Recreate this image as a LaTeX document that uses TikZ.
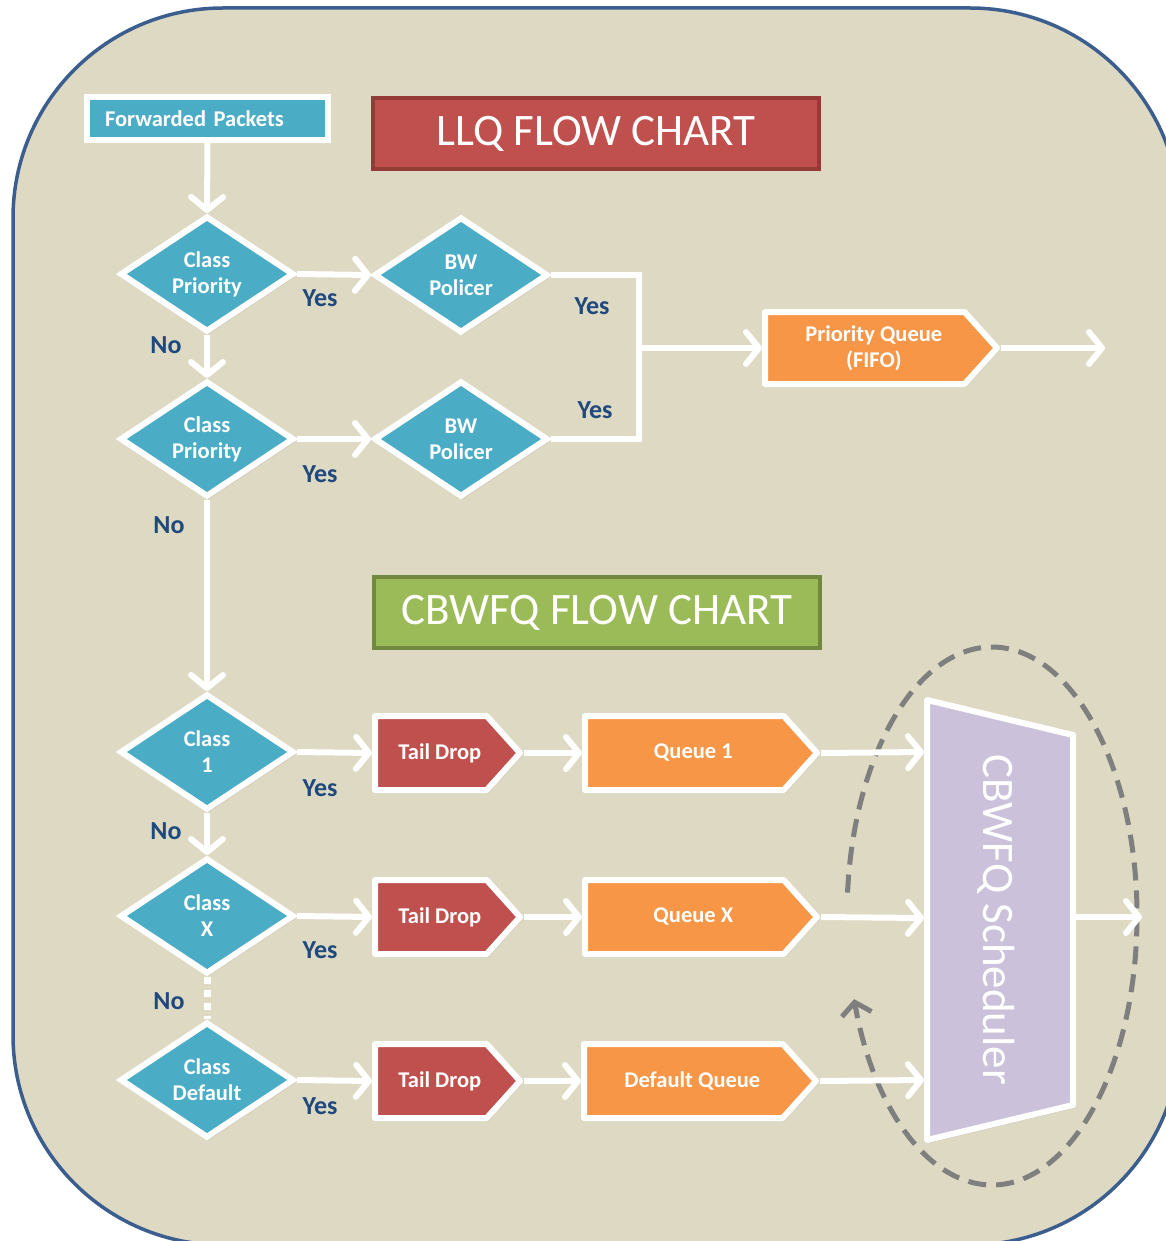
\documentclass[tikz,border=0pt]{standalone}
\usepackage{fontspec}
\setmainfont{Carlito}
\usetikzlibrary{shapes.geometric,shapes.symbols,arrows.meta,shadows}
\definecolor{bgtan}{HTML}{DDD9C3}
\definecolor{frameblue}{HTML}{3B5E8E}
\definecolor{tealc}{HTML}{4BACC6}
\definecolor{redc}{HTML}{C0504D}
\definecolor{redd}{HTML}{943A37}
\definecolor{orangec}{HTML}{F79646}
\definecolor{greenc}{HTML}{9BBB59}
\definecolor{greend}{HTML}{71893F}
\definecolor{purplec}{HTML}{CCC1DA}
\definecolor{labelc}{HTML}{1F497D}
\definecolor{dashc}{HTML}{7F7F7F}
\newcommand\shtxt[1]{\hspace*{9pt}#1\hspace*{-9pt}}
\tikzset{
  shad/.style={drop shadow={opacity=0.22, shadow xshift=2pt, shadow yshift=-3pt}},
  boxfont/.style={font=\fontsize{22.5}{26}\selectfont\bfseries, text=white},
  dec/.style={diamond, shape aspect=1.5, draw=white, line width=6pt, fill=tealc,
    minimum width=174pt, minimum height=116pt, inner sep=0pt, align=center, boxfont, shad},
  sig/.style={signal, signal to=east, signal pointer angle=96, draw=white, line width=6pt,
    line join=round, inner sep=0pt, minimum height=74pt, boxfont, align=center, shad, anchor=west},
  titlebox/.style={draw=#1, line width=4pt, minimum width=446pt, minimum height=71pt,
    text=white, font=\fontsize{45}{50}\selectfont},
  lab/.style={text=labelc, font=\fontsize{26}{30}\selectfont\bfseries},
  wline/.style={draw=white, line width=6pt},
  flow/.style={wline, -{Straight Barb[length=13pt, width=32pt, round]}},
}
\begin{document}
\begin{tikzpicture}[x=1pt, y=-1pt]
\fill[white] (0,0) rectangle (1165,1241);
\useasboundingbox (0,0) rectangle (1165,1241);
% background panel
\draw[fill=bgtan, draw=frameblue, line width=3.5pt, rounded corners=210pt] (13,8) rectangle (1180,1245);

% titles
\node[titlebox=redd, fill=redc] (llq) at (596,133.5) {LLQ FLOW CHART};
\node[titlebox=greend, fill=greenc] (cbt) at (597,612.5) {CBWFQ FLOW CHART};

% source
\node[draw=white, line width=6pt, fill=tealc, boxfont, minimum height=43pt,
      inner xsep=18pt, text width=205pt, align=left, shad] (fwd) at (207.5,118.5) {Forwarded Packets};

% LLQ decisions
\node[dec] (cp1) at (207,274) {Class\\Priority};
\node[dec] (bw1) at (461,275) {BW\\Policer};
\node[dec] (cp2) at (207,439) {Class\\Priority};
\node[dec] (bw2) at (461,439) {BW\\Policer};
\node[sig, fill=orangec, minimum width=232pt, minimum height=72pt] (pq) at (762,348) {\shtxt{Priority Queue}\\\shtxt{(FIFO)}};
\coordinate (jn) at (639,348);
\coordinate (pqout) at (1105,348);

% CBWFQ decisions
\node[dec] (c1) at (207,752) {Class\\1};
\node[dec] (cx) at (207,916) {Class\\X};
\node[dec] (cd) at (207,1080) {Class\\Default};

\node[sig, fill=redc, minimum width=145pt] (td1) at (372,753) {\shtxt{Tail Drop}};
\node[sig, fill=redc, minimum width=145pt] (td2) at (372,917) {\shtxt{Tail Drop}};
\node[sig, fill=redc, minimum width=145pt] (td3) at (372,1081) {\shtxt{Tail Drop}};
\node[sig, fill=orangec, minimum width=232pt] (q1) at (582,753) {\shtxt{Queue 1}};
\node[sig, fill=orangec, minimum width=232pt] (qx) at (582,917) {\shtxt{Queue X}};
\node[sig, fill=orangec, minimum width=232pt] (qd) at (581,1081) {\shtxt{Default Queue}};

% scheduler
\draw[fill=purplec, draw=white, line width=6pt, line join=round, shad]
  (927,700) -- (1073,735) -- (1073,1105) -- (927,1140) -- cycle;
\node[rotate=-90, text=white, font=\fontsize{45}{50}\selectfont] (sched) at (996,920) {CBWFQ Scheduler};
\coordinate (s1) at (924,752);
\coordinate (s2) at (924,918);
\coordinate (s3) at (924,1080);
\coordinate (so) at (1076,917);
\coordinate (sout) at (1142,917);

% dashed round-robin loop
\draw[dashc, line width=5pt, dash pattern=on 18pt off 10pt,
      -{Straight Barb[length=12pt, width=30pt]}]
  ([shift={(175:145pt and 269pt)}]992,916) arc[start angle=175, end angle=-162, x radius=145pt, y radius=269pt];

% connectors
\draw[flow] (fwd.south) -- (cp1.north);
\draw[flow] (cp1.east) -- (bw1.west);
\draw[flow] (cp1.south) -- (cp2.north);
\draw[flow] (cp2.east) -- (bw2.west);
\draw[wline] (bw1.east) -| (jn) |- (bw2.east);
\draw[flow] (jn) -- (pq.west);
\draw[flow] (pq.east) -- (pqout);
\draw[flow] (cp2.south) -- (c1.north);
\draw[flow] (c1.south) -- (cx.north);
\draw[wline, line width=7pt, dash pattern=on 7pt off 6pt] (cx.south) -- (cd.north);
\draw[flow] (c1.east) -- (td1.west);
\draw[flow] (cx.east) -- (td2.west);
\draw[flow] (cd.east) -- (td3.west);
\draw[flow] (td1.east) -- (q1.west);
\draw[flow] (td2.east) -- (qx.west);
\draw[flow] (td3.east) -- (qd.west);
\draw[flow] (q1.east) -- (s1);
\draw[flow] (qx.east) -- (s2);
\draw[flow] (qd.east) -- (s3);
\draw[flow] (so) -- (sout);

% labels
\node[lab] (y1) at (320,298) {Yes};
\node[lab] (y2) at (592,306) {Yes};
\node[lab] (y3) at (595,410) {Yes};
\node[lab] (y4) at (320,474) {Yes};
\node[lab] (n1) at (166,345) {No};
\node[lab] (n2) at (169,525) {No};
\node[lab] (y5) at (320,788) {Yes};
\node[lab] (n3) at (166,831) {No};
\node[lab] (y6) at (320,950) {Yes};
\node[lab] (n4) at (169,1001) {No};
\node[lab] (y7) at (320,1106) {Yes};
\end{tikzpicture}
\end{document}
